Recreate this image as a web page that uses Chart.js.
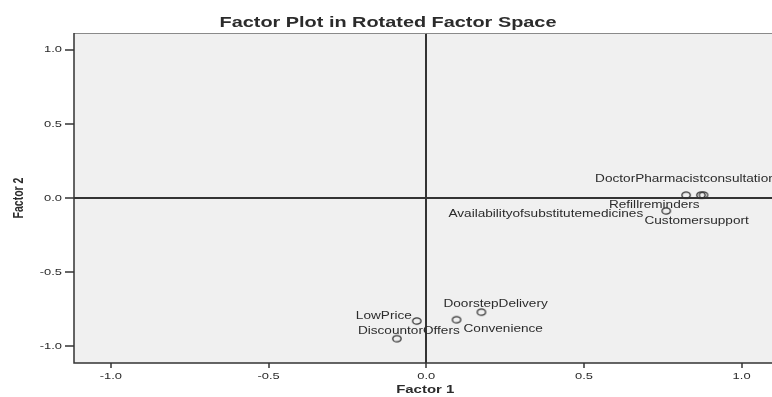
<!DOCTYPE html>
<html>
<head>
<meta charset="utf-8">
<script src="https://cdn.jsdelivr.net/npm/chart.js@4.4.1/dist/chart.umd.min.js"></script>
<style>
  html, body { margin: 0; padding: 0; background: #fff; overflow: hidden; }
  #wrap { width: 786px; height: 397px; }
</style>
</head>
<body>
<div id="wrap"><canvas id="factorPlot" width="786" height="397"></canvas></div>
<script>
// loadings
const variableNames = [
    'DoctorPharmacistconsultation',
    'Refillreminders',
    'Customersupport',
    'Availabilityofsubstitutemedicines',
    'DoorstepDelivery',
    'Convenience',
    'LowPrice',
    'DiscountorOffers'
];
const factor1 = [0.824, 0.871, 0.879, 0.761, 0.175, 0.096, -0.030, -0.093];
const factor2 = [0.019, 0.019, 0.020, -0.087, -0.770, -0.821, -0.830, -0.949];

const xTicks = [-1.0, -0.5, 0.0, 0.5, 1.0];
const yTicks = [-1.0, -0.5, 0.0, 0.5, 1.0];
const xLimits = [-1.117, 1.117];
const yLimits = [-1.113, 1.113];

// where each label sits next to its point (px): dx, dy, align
const labelPlace = [
    [-91, -16, 'left'],
    [-92, 10, 'left'],
    [-59, 26, 'left'],
    [-23, 3, 'right'],
    [-38, -8, 'left'],
    [7, 10, 'left'],
    [-5, -5, 'right'],
    [-39, -7, 'left']
];

const STRETCH = 1.36;
const ink = '#2b2b2b';

function stretchText(ctx, text, x, y, font, align, sx) {
    ctx.save();
    ctx.font = font;
    ctx.fillStyle = ink;
    ctx.textAlign = align;
    ctx.textBaseline = 'middle';
    ctx.translate(x, y);
    ctx.scale(sx, 1);
    ctx.fillText(text, 0, 0);
    ctx.restore();
}

// small open oval used as marker (the picture is a bit wider than tall)
function makeMarker() {
    const c = document.createElement('canvas');
    c.width = 12;
    c.height = 10;
    const g = c.getContext('2d');
    g.strokeStyle = '#333';
    g.lineWidth = 1.3;
    g.beginPath();
    g.ellipse(6, 5, 4.2, 3.2, 0, 0, Math.PI * 2);
    g.stroke();
    return c;
}

const spssLook = {
    id: 'spssLook',
    beforeDraw(chart) {
        const { ctx, chartArea: a } = chart;
        ctx.save();
        ctx.fillStyle = '#f0f0f0';
        ctx.fillRect(a.left, a.top, a.right - a.left, a.bottom - a.top);
        ctx.restore();
    },
    beforeDatasetsDraw(chart) {
        const { ctx, chartArea: a } = chart;
        ctx.save();
        ctx.lineWidth = 1;
        ctx.strokeStyle = '#8a8a8a';
        ctx.beginPath();
        ctx.moveTo(a.left, a.top + 0.5);
        ctx.lineTo(a.right, a.top + 0.5);
        ctx.stroke();
        ctx.strokeStyle = '#333';
        ctx.lineWidth = 1.5;
        ctx.beginPath();
        ctx.moveTo(a.left, a.top);
        ctx.lineTo(a.left, a.bottom);
        ctx.lineTo(a.right, a.bottom);
        ctx.stroke();
        ctx.restore();
    },
    afterDraw(chart) {
        const { ctx, chartArea: a, scales } = chart;
        const font = '9.5px "Liberation Sans", Arial, sans-serif';
        xTicks.forEach(v => {
            stretchText(ctx, v.toFixed(1), scales.x.getPixelForValue(v), a.bottom + 13, font, 'center', STRETCH);
        });
        yTicks.forEach(v => {
            stretchText(ctx, v.toFixed(1), a.left - 12, scales.y.getPixelForValue(v), font, 'right', STRETCH);
        });

        const meta = chart.getDatasetMeta(0);
        meta.data.forEach((pt, i) => {
            const p = labelPlace[i];
            stretchText(ctx, variableNames[i], pt.x + p[0], pt.y + p[1],
                '10px "Liberation Sans", Arial, sans-serif', p[2], STRETCH);
        });

        stretchText(ctx, 'Factor Plot in Rotated Factor Space', 388, 23,
            'bold 14px "Liberation Sans", Arial, sans-serif', 'center', 1.42);
        stretchText(ctx, 'Factor 1', (a.left + a.right) / 2 - 1, 390,
            'bold 11px "Liberation Sans", Arial, sans-serif', 'center', STRETCH);

        ctx.save();
        ctx.font = 'bold 10.5px "Liberation Sans", Arial, sans-serif';
        ctx.fillStyle = ink;
        ctx.textAlign = 'center';
        ctx.textBaseline = 'middle';
        ctx.translate(19, (a.top + a.bottom) / 2);
        ctx.scale(STRETCH, 1);
        ctx.rotate(-Math.PI / 2);
        ctx.fillText('Factor 2', 0, 0);
        ctx.restore();
    }
};

const points = factor1.map((x, i) => ({ x: x, y: factor2[i] }));

function zeroLine(c) {
    return c.tick && c.tick.value === 0 ? '#333' : 'rgba(0,0,0,0)';
}

const chart = new Chart(document.getElementById('factorPlot').getContext('2d'), {
    type: 'scatter',
    data: {
        datasets: [{
            label: 'Loadings',
            data: points,
            pointStyle: makeMarker(),
            pointRadius: 4,
            pointHoverRadius: 4,
            borderColor: '#333',
            backgroundColor: 'rgba(0,0,0,0)'
        }]
    },
    options: {
        responsive: false,
        devicePixelRatio: 1,
        animation: false,
        events: [],
        layout: { padding: { top: 33, left: 0, right: 7.5, bottom: 0 } },
        plugins: {
            legend: { display: false },
            tooltip: { enabled: false },
            title: { display: false }
        },
        scales: {
            x: {
                type: 'linear',
                min: xLimits[0],
                max: xLimits[1],
                afterBuildTicks: s => { s.ticks = xTicks.map(v => ({ value: v })); },
                afterFit: s => { s.height = 34; },
                border: { display: false },
                grid: {
                    color: zeroLine,
                    lineWidth: 2,
                    tickColor: '#333',
                    tickLength: 5,
                    tickWidth: 1.5
                },
                ticks: { color: 'rgba(0,0,0,0)', font: { size: 9 } }
            },
            y: {
                type: 'linear',
                min: yLimits[0],
                max: yLimits[1],
                afterBuildTicks: s => { s.ticks = yTicks.map(v => ({ value: v })); },
                afterFit: s => { s.width = 74; },
                border: { display: false },
                grid: {
                    color: zeroLine,
                    lineWidth: 2,
                    tickColor: '#333',
                    tickLength: 9,
                    tickWidth: 1.5
                },
                ticks: { color: 'rgba(0,0,0,0)', font: { size: 9 } }
            }
        }
    },
    plugins: [spssLook]
});
</script>
</body>
</html>
